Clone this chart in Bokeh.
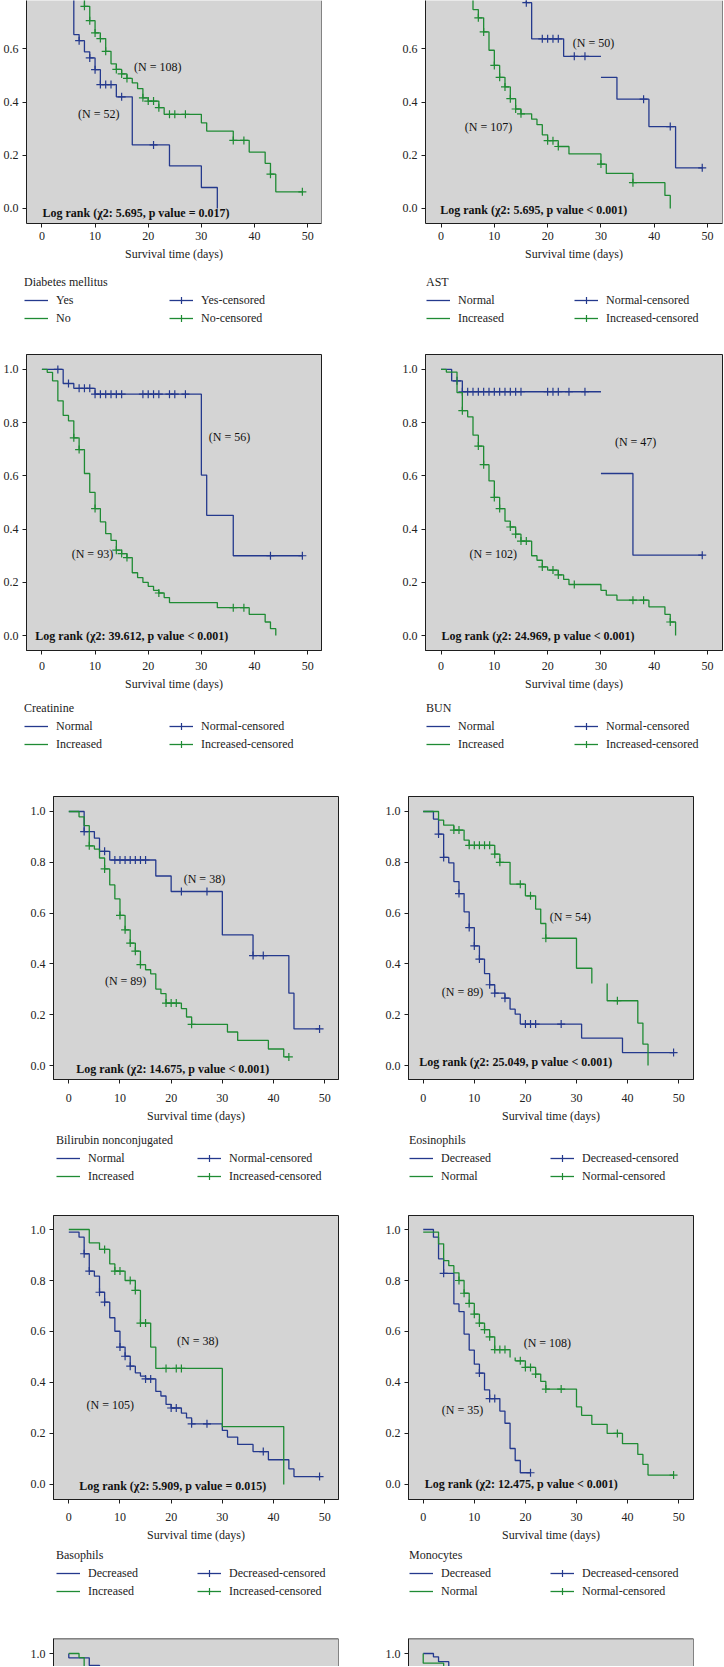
import math
from bokeh.plotting import figure
from bokeh.layouts import column, row
from bokeh.models import Legend, LegendItem, Span, FixedTicker, PrintfTickFormatter
from bokeh.core.properties import value
from bokeh.embed import file_html
from bokeh.resources import INLINE

# ---------------------------------------------------------------- data
x_ticks = [0, 10, 20, 30, 40, 50]
y_ticks = [0.0, 0.2, 0.4, 0.6, 0.8, 1.0]
x_label = "Survival time (days)"

# Diabetes mellitus
dm_title = "Diabetes mellitus"
dm_groups = ["Yes", "No"]
dm_n = [52, 108]
dm_chi2, dm_p = "5.695", "= 0.017"
dm_yes_t = [0, 1, 3, 4, 5, 6, 7, 8, 9, 10, 11, 14, 17, 24, 30, 33]
dm_yes_s = [1.0, 0.98, 0.94, 0.88, 0.80, 0.654, 0.631, 0.589, 0.566, 0.522, 0.466, 0.42, 0.239, 0.16, 0.079, 0.0]
dm_yes_end = 33
dm_yes_c = [7, 9, 10, 11, 12, 13, 15, 21]
dm_no_t = [0, 2, 3, 4, 5, 6, 7, 8, 9, 10, 11, 12, 13, 14, 15, 16, 17, 18, 19, 20, 22, 23, 30, 31, 36, 39, 42, 43, 44]
dm_no_s = [1.0, 0.98, 0.95, 0.91, 0.87, 0.83, 0.79, 0.76, 0.706, 0.66, 0.639, 0.591, 0.544, 0.523, 0.506, 0.489,
           0.472, 0.451, 0.416, 0.404, 0.379, 0.354, 0.322, 0.291, 0.256, 0.212, 0.17, 0.129, 0.0625]
dm_no_end = 49
dm_no_c = [8, 9, 10, 11, 12, 14, 15, 16, 19, 20, 21, 22, 24, 25, 27, 36, 38, 43, 49]

# AST
ast_title = "AST"
ast_groups = ["Normal", "Increased"]
ast_n = [50, 107]
ast_chi2, ast_p = "5.695", "< 0.001"
ast_nor_t = [0, 3, 6, 10, 13, 16, 17, 23, 30, 33, 39, 44]
ast_nor_s = [1.0, 0.98, 0.94, 0.9, 0.84, 0.774, 0.638, 0.572, 0.493, 0.411, 0.308, 0.153]
ast_nor_end = 49
ast_nor_c = [16, 19, 20, 21, 22, 25, 27, 38, 43, 49]
ast_nor_vgap = [30]
ast_inc_t = [0, 1, 2, 3, 4, 5, 6, 7, 8, 9, 10, 11, 12, 13, 14, 15, 17, 18, 19, 20, 22, 24, 30, 31, 36, 42, 43]
ast_inc_s = [1.0, 0.98, 0.95, 0.91, 0.86, 0.8, 0.748, 0.717, 0.664, 0.595, 0.538, 0.493, 0.457, 0.413, 0.374,
             0.356, 0.336, 0.315, 0.277, 0.255, 0.233, 0.205, 0.167, 0.132, 0.097, 0.049, 0.0]
ast_inc_end = 43
ast_inc_c = [7, 8, 10, 11, 12, 13, 14, 15, 20, 21, 22, 30, 36]

# Creatinine
cr_title = "Creatinine"
cr_groups = ["Normal", "Increased"]
cr_n = [56, 93]
cr_chi2, cr_p = "39.612", "< 0.001"
cr_nor_t = [0, 4, 6, 10, 30, 31, 36]
cr_nor_s = [1.0, 0.947, 0.929, 0.907, 0.603, 0.452, 0.30]
cr_nor_end = 49
cr_nor_c = [3, 5, 7, 8, 9, 10, 11, 12, 13, 14, 15, 19, 20, 21, 22, 24, 25, 27, 43, 49]
cr_inc_t = [0, 1, 2, 3, 4, 5, 6, 7, 8, 9, 10, 11, 12, 13, 14, 15, 16, 17, 18, 19, 20, 21, 22, 23, 24, 33, 39, 42, 43, 44]
cr_inc_s = [1.0, 0.989, 0.957, 0.882, 0.827, 0.807, 0.743, 0.699, 0.609, 0.538, 0.477, 0.427, 0.383, 0.358, 0.321,
            0.308, 0.293, 0.236, 0.218, 0.2, 0.185, 0.17, 0.16, 0.143, 0.124, 0.105, 0.08, 0.051, 0.026, 0.0]
cr_inc_end = 44
cr_inc_c = [6, 7, 10, 14, 15, 16, 22, 36, 38]

# BUN
bun_title = "BUN"
bun_groups = ["Normal", "Increased"]
bun_n = [47, 102]
bun_chi2, bun_p = "24.969", "< 0.001"
bun_nor_t = [0, 2, 4, 30, 36]
bun_nor_s = [1.0, 0.957, 0.916, 0.609, 0.302]
bun_nor_end = 49
bun_nor_c = [3, 4, 5, 6, 7, 8, 9, 10, 11, 12, 13, 14, 15, 20, 21, 22, 24, 27, 49]
bun_nor_vgap = [30]
bun_inc_t = [0, 1, 3, 4, 5, 6, 7, 8, 9, 10, 11, 12, 13, 14, 15, 17, 18, 19, 20, 22, 23, 24, 30, 31, 33, 39, 42, 43, 44]
bun_inc_s = [1.0, 0.99, 0.913, 0.845, 0.822, 0.753, 0.712, 0.642, 0.581, 0.519, 0.477, 0.43, 0.408, 0.381, 0.355,
             0.3, 0.283, 0.258, 0.246, 0.228, 0.211, 0.192, 0.17, 0.152, 0.133, 0.108, 0.08, 0.051, 0.0]
bun_inc_end = 44
bun_inc_c = [4, 7, 8, 10, 11, 13, 14, 15, 16, 19, 21, 22, 25, 36, 38, 43]

# Bilirubin nonconjugated
bil_title = "Bilirubin nonconjugated"
bil_groups = ["Normal", "Increased"]
bil_n = [38, 89]
bil_chi2, bil_p = "14.675", "< 0.001"
bil_nor_t = [0, 3, 5, 6, 8, 17, 20, 30, 36, 43, 44]
bil_nor_s = [1.0, 0.921, 0.895, 0.843, 0.809, 0.746, 0.685, 0.514, 0.433, 0.285, 0.144]
bil_nor_end = 49
bil_nor_c = [3, 7, 9, 10, 11, 12, 13, 14, 15, 22, 27, 36, 38, 49]
bil_inc_t = [0, 2, 3, 4, 5, 6, 7, 8, 9, 10, 11, 12, 13, 14, 15, 16, 17, 18, 19, 22, 23, 24, 31, 33, 39, 42]
bil_inc_s = [1.0, 0.979, 0.944, 0.865, 0.852, 0.817, 0.774, 0.711, 0.656, 0.591, 0.534, 0.482, 0.45, 0.397,
             0.377, 0.361, 0.301, 0.283, 0.246, 0.224, 0.191, 0.162, 0.132, 0.099, 0.065, 0.034]
bil_inc_end = 43
bil_inc_c = [4, 7, 10, 11, 12, 13, 14, 19, 20, 21, 24, 43]

# Eosinophils
eo_title = "Eosinophils"
eo_groups = ["Decreased", "Normal"]
eo_n = [89, 54]
eo_chi2, eo_p = "25.049", "< 0.001"
eo_dec_t = [0, 2, 3, 4, 5, 6, 7, 8, 9, 10, 11, 12, 13, 14, 16, 17, 18, 19, 31, 39]
eo_dec_s = [1.0, 0.97, 0.911, 0.819, 0.798, 0.724, 0.677, 0.605, 0.543, 0.471, 0.419, 0.362, 0.318, 0.285,
            0.265, 0.222, 0.202, 0.163, 0.108, 0.051]
eo_dec_end = 49
eo_dec_c = [3, 4, 7, 9, 10, 11, 13, 14, 16, 20, 21, 22, 27, 49]
eo_nor_t = [0, 3, 4, 6, 8, 9, 14, 15, 17, 20, 22, 23, 24, 30, 33, 36, 42, 43, 44]
eo_nor_s = [1.0, 0.966, 0.946, 0.927, 0.887, 0.867, 0.832, 0.8, 0.714, 0.668, 0.616, 0.559, 0.501, 0.383,
            0.323, 0.255, 0.167, 0.084, 0.0]
eo_nor_end = 44
eo_nor_c = [6, 7, 9, 10, 11, 12, 13, 14, 15, 19, 21, 24, 38]
eo_nor_hgap = [33]

# Basophils
ba_title = "Basophils"
ba_groups = ["Decreased", "Increased"]
ba_n = [105, 38]
ba_chi2, ba_p = "5.909", "= 0.015"
ba_dec_t = [0, 2, 3, 4, 5, 6, 7, 8, 9, 10, 11, 12, 13, 14, 15, 17, 18, 19, 20, 22, 23, 24, 30, 31, 33, 36, 39, 43, 44]
ba_dec_s = [0.99, 0.97, 0.905, 0.837, 0.817, 0.754, 0.715, 0.654, 0.601, 0.539, 0.503, 0.464, 0.438, 0.425,
            0.414, 0.365, 0.347, 0.314, 0.3, 0.28, 0.261, 0.238, 0.212, 0.186, 0.157, 0.129, 0.097, 0.061, 0.031]
ba_dec_end = 49
ba_dec_c = [3, 4, 6, 7, 10, 11, 12, 15, 16, 20, 21, 24, 27, 38, 49]
ba_inc_t = [0, 4, 6, 8, 9, 11, 13, 14, 16, 17, 30, 42]
ba_inc_s = [1.0, 0.948, 0.922, 0.865, 0.837, 0.8, 0.761, 0.633, 0.539, 0.455, 0.227, 0.0]
ba_inc_end = 42
ba_inc_c = [7, 9, 10, 12, 13, 14, 15, 19, 21, 22]

# Monocytes
mo_title = "Monocytes"
mo_groups = ["Decreased", "Normal"]
mo_n = [35, 108]
mo_chi2, mo_p = "12.475", "< 0.001"
mo_dec_t = [0, 2, 3, 4, 6, 7, 8, 9, 10, 11, 12, 13, 15, 16, 17, 18, 19]
mo_dec_s = [1.0, 0.97, 0.885, 0.828, 0.708, 0.678, 0.59, 0.527, 0.472, 0.437, 0.371, 0.337, 0.288, 0.24,
            0.141, 0.094, 0.046]
mo_dec_end = 21
mo_dec_c = [4, 11, 13, 14, 21]
mo_nor_t = [0, 3, 4, 5, 6, 7, 8, 9, 10, 11, 12, 13, 14, 17, 18, 20, 22, 23, 24, 30, 31, 33, 36, 39, 42, 43, 44]
mo_nor_s = [0.99, 0.944, 0.878, 0.858, 0.83, 0.8, 0.75, 0.71, 0.668, 0.633, 0.607, 0.579, 0.529, 0.498, 0.485,
            0.459, 0.433, 0.404, 0.374, 0.304, 0.271, 0.236, 0.2, 0.16, 0.118, 0.079, 0.037]
mo_nor_end = 49
mo_nor_c = [7, 8, 9, 10, 11, 12, 13, 14, 15, 16, 19, 20, 21, 22, 24, 27, 38, 49]
mo_nor_hgap = [17]

# bottom row (cut off in the picture)
b5l_blue_t = [0, 0, 4, 6, 7]
b5l_blue_s = [1.0, 0.983, 0.953, 0.92, 0.89]
b5l_blue_end = 9
b5l_green_t = [0, 2, 3, 5]
b5l_green_s = [1.0, 0.984, 0.93, 0.9]
b5l_green_end = 7
b5r_blue_t = [0, 2, 3, 5]
b5r_blue_s = [1.0, 0.987, 0.968, 0.93]
b5r_blue_end = 7
b5r_green_t = [0, 0, 4, 6]
b5r_green_s = [1.0, 0.962, 0.93, 0.9]
b5r_green_end = 8

# ---------------------------------------------------------------- style / layout
FONT = "Liberation Serif"
BLUE = "#24398D"
GREEN = "#1F8B34"
BG = "#D4D4D4"
DARK = "#1E1E1E"
FS = "12px"
FIG_W = 362

# main figure per row: (height, border top, border bottom, y start, y end, tick label standoff)
ROWS = [
    (263, 0, 40, -0.0564, 0.782, 4),
    (353, 14, 43, -0.056, 1.056, 7),
    (355, 26, 46, -0.055, 1.059, 10),
    (354, 25, 45, -0.059, 1.055, 9),
    (46, 18, 0, 0.949, 1.059, 4),
]
# legend strip under each row: (height, border top)
LEG_ROWS = [(77, 12), (77, 8), (65, 8), (76, 4)]
# columns: (left border, right border, x start, x end, legend label width, legend left border)
COLS_TOP = [(24, 41, -2.9, 52.6, 113, 24), (63, 2, -2.91, 52.8, 116, 64)]
COLS_BOT = [(53, 24, -2.99, 52.7, 109, 56), (46, 31, -2.88, 52.9, 109, 47)]


def step_path(t, s, end, vgaps=(), hgaps=()):
    xs, ys = [t[0]], [s[0]]
    for i in range(1, len(t)):
        if t[i - 1] in hgaps:
            xs.append(float("nan")); ys.append(float("nan"))
        xs.append(t[i]); ys.append(s[i - 1])
        if t[i] in vgaps:
            xs.append(float("nan")); ys.append(float("nan"))
        xs.append(t[i]); ys.append(s[i])
    xs.append(end); ys.append(s[-1])
    return xs, ys


def surv_at(t, s, c):
    v = s[0]
    for ti, si in zip(t, s):
        if ti <= c:
            v = si
    return v


def base_fig(rg, cg, show_x=True):
    h, bt, bb, ys0, ys1, stand = rg
    bl, br, xs0, xs1 = cg[:4]
    p = figure(width=FIG_W, height=h, x_range=(xs0, xs1), y_range=(ys0, ys1),
               output_backend="svg", toolbar_location=None,
               min_border_left=bl, min_border_right=br, min_border_top=bt, min_border_bottom=bb,
               x_axis_location="below" if show_x else None)
    p.grid.visible = False
    p.background_fill_color = BG
    p.border_fill_color = "white"
    p.outline_line_color = DARK
    p.outline_line_width = 1
    p.yaxis.ticker = FixedTicker(ticks=y_ticks)
    p.yaxis.formatter = PrintfTickFormatter(format="%.1f")
    for ax in p.axis:
        ax.major_label_text_font = FONT
        ax.major_label_text_font_size = FS
        ax.major_label_text_color = "#222"
        ax.major_tick_out = 4
        ax.major_tick_in = 0
        ax.minor_tick_out = 0
        ax.minor_tick_in = 0
        ax.major_label_standoff = 4
        ax.axis_line_color = DARK
        ax.major_tick_line_color = DARK
    if show_x:
        p.xaxis.ticker = FixedTicker(ticks=x_ticks)
        p.xaxis.axis_label = x_label
        p.xaxis.axis_label_text_font = FONT
        p.xaxis.axis_label_text_font_size = FS
        p.xaxis.axis_label_text_font_style = "normal"
        p.xaxis.axis_label_text_color = "#222"
        p.xaxis.axis_label_standoff = 4
        p.xaxis.major_label_standoff = stand
    return p


def legend_fig(lr, cg, title, groups, curves):
    h, bt = lr
    q = figure(width=FIG_W, height=h, output_backend="svg", toolbar_location=None,
               x_axis_location=None, y_axis_location=None,
               min_border_left=cg[5], min_border_right=0, min_border_top=bt, min_border_bottom=0)
    q.grid.visible = False
    q.outline_line_color = None
    q.background_fill_color = "white"
    q.border_fill_color = "white"
    rend = []
    for (xs, ys, cx, cy), col in zip(curves, (BLUE, GREEN)):
        r = q.line(xs, ys, line_color=col, line_width=1.3, visible=False)
        m = q.scatter(cx, cy, marker="cross", size=8, line_color=col, line_width=1.2, visible=False)
        rend.append((r, m))
    items = [
        LegendItem(label=groups[0], renderers=[rend[0][0]]),
        LegendItem(label=groups[1], renderers=[rend[1][0]]),
        LegendItem(label=groups[0] + "-censored", renderers=[rend[0][0], rend[0][1]]),
        LegendItem(label=groups[1] + "-censored", renderers=[rend[1][0], rend[1][1]]),
    ]
    leg = Legend(items=items, location="top_left", orientation="vertical", nrows=2,
                 title=title, title_text_font=FONT, title_text_font_size=FS,
                 title_text_font_style="normal", title_text_color="#222", title_standoff=1,
                 label_text_font=FONT, label_text_font_size=FS, label_text_color="#222",
                 label_standoff=8, label_height=18, label_width=cg[4],
                 glyph_width=24, glyph_height=18, spacing=0, padding=0, margin=0,
                 border_line_color=None, background_fill_alpha=0, inactive_fill_alpha=0)
    q.add_layout(leg)
    return q


def km_panel(rg, lr, cg, title, groups, n, chi2, pv, blue, green, pos, cut_top=False):
    p = base_fig(rg, cg)
    curves = []
    for (t, s, end, cens, vg, hg), col in ((blue, BLUE), (green, GREEN)):
        xs, ys = step_path(t, s, end, vg, hg)
        p.line(xs, ys, line_color=col, line_width=1.3)
        cy = [surv_at(t, s, c) for c in cens]
        p.scatter(cens, cy, marker="cross", size=8, line_color=col, line_width=1.2)
        curves.append((xs, ys, cens, cy))
    (nb_x, nb_y), (ng_x, ng_y), (lr_x, lr_y) = pos
    p.text(x=[nb_x, ng_x], y=[nb_y, ng_y], text=[f"(N = {n[0]})", f"(N = {n[1]})"],
           text_font=value(FONT), text_font_size=FS, text_color="#111",
           text_align="center", text_baseline="middle")
    p.text(x=[lr_x], y=[lr_y], text=[f"Log rank (\u03c72: {chi2}, p value {pv})"],
           text_font=value(FONT), text_font_size=FS, text_font_style="bold", text_color="#111",
           text_align="center", text_baseline="middle")
    if cut_top:
        p.outline_line_color = None
        p.add_layout(Span(location=cg[3], dimension="height", line_color=DARK, line_width=1))
    return p, legend_fig(lr, cg, title, groups, curves)


def cut_panel(rg, cg, blue, green):
    p = base_fig(rg, cg, show_x=False)
    for (t, s, end), col in ((blue, BLUE), (green, GREEN)):
        xs, ys = step_path(t, s, end)
        p.line(xs, ys, line_color=col, line_width=1.3)
    p.outline_line_color = None
    p.add_layout(Span(location=rg[4], dimension="width", line_color=DARK, line_width=1.5))
    p.add_layout(Span(location=cg[3], dimension="height", line_color=DARK, line_width=1))
    return p


# text positions (data coords): blue N label, green N label, log-rank line
POS = {
    "dm": ((10.7, 0.354), (21.8, 0.531), (17.7, -0.018)),
    "ast": ((28.6, 0.623), (8.9, 0.308), (17.4, -0.004)),
    "cr": ((35.3, 0.747), (9.5, 0.308), (16.9, 0.0)),
    "bun": ((36.5, 0.726), (9.8, 0.306), (18.2, 0.0)),
    "bil": ((26.5, 0.734), (11.1, 0.332), (20.3, -0.012)),
    "eo": ((7.7, 0.291), (28.8, 0.585), (18.1, 0.012)),
    "ba": ((8.1, 0.31), (25.2, 0.562), (20.3, -0.008)),
    "mo": ((7.7, 0.292), (24.3, 0.554), (19.2, 0.0)),
}

p_dm, l_dm = km_panel(ROWS[0], LEG_ROWS[0], COLS_TOP[0], dm_title, dm_groups, dm_n, dm_chi2, dm_p,
                      (dm_yes_t, dm_yes_s, dm_yes_end, dm_yes_c, [], []),
                      (dm_no_t, dm_no_s, dm_no_end, dm_no_c, [], []), POS["dm"], cut_top=True)
p_ast, l_ast = km_panel(ROWS[0], LEG_ROWS[0], COLS_TOP[1], ast_title, ast_groups, ast_n, ast_chi2, ast_p,
                        (ast_nor_t, ast_nor_s, ast_nor_end, ast_nor_c, ast_nor_vgap, []),
                        (ast_inc_t, ast_inc_s, ast_inc_end, ast_inc_c, [], []), POS["ast"], cut_top=True)
p_cr, l_cr = km_panel(ROWS[1], LEG_ROWS[1], COLS_TOP[0], cr_title, cr_groups, cr_n, cr_chi2, cr_p,
                      (cr_nor_t, cr_nor_s, cr_nor_end, cr_nor_c, [], []),
                      (cr_inc_t, cr_inc_s, cr_inc_end, cr_inc_c, [], []), POS["cr"])
p_bun, l_bun = km_panel(ROWS[1], LEG_ROWS[1], COLS_TOP[1], bun_title, bun_groups, bun_n, bun_chi2, bun_p,
                        (bun_nor_t, bun_nor_s, bun_nor_end, bun_nor_c, bun_nor_vgap, []),
                        (bun_inc_t, bun_inc_s, bun_inc_end, bun_inc_c, [], []), POS["bun"])
p_bil, l_bil = km_panel(ROWS[2], LEG_ROWS[2], COLS_BOT[0], bil_title, bil_groups, bil_n, bil_chi2, bil_p,
                        (bil_nor_t, bil_nor_s, bil_nor_end, bil_nor_c, [], []),
                        (bil_inc_t, bil_inc_s, bil_inc_end, bil_inc_c, [], []), POS["bil"])
p_eo, l_eo = km_panel(ROWS[2], LEG_ROWS[2], COLS_BOT[1], eo_title, eo_groups, eo_n, eo_chi2, eo_p,
                      (eo_dec_t, eo_dec_s, eo_dec_end, eo_dec_c, [], []),
                      (eo_nor_t, eo_nor_s, eo_nor_end, eo_nor_c, [], eo_nor_hgap), POS["eo"])
p_ba, l_ba = km_panel(ROWS[3], LEG_ROWS[3], COLS_BOT[0], ba_title, ba_groups, ba_n, ba_chi2, ba_p,
                      (ba_dec_t, ba_dec_s, ba_dec_end, ba_dec_c, [], []),
                      (ba_inc_t, ba_inc_s, ba_inc_end, ba_inc_c, [], []), POS["ba"])
p_mo, l_mo = km_panel(ROWS[3], LEG_ROWS[3], COLS_BOT[1], mo_title, mo_groups, mo_n, mo_chi2, mo_p,
                      (mo_dec_t, mo_dec_s, mo_dec_end, mo_dec_c, [], []),
                      (mo_nor_t, mo_nor_s, mo_nor_end, mo_nor_c, [], mo_nor_hgap), POS["mo"])
p_b5l = cut_panel(ROWS[4], COLS_BOT[0], (b5l_blue_t, b5l_blue_s, b5l_blue_end),
                  (b5l_green_t, b5l_green_s, b5l_green_end))
p_b5r = cut_panel(ROWS[4], COLS_BOT[1], (b5r_blue_t, b5r_blue_s, b5r_blue_end),
                  (b5r_green_t, b5r_green_s, b5r_green_end))

layout = column(row(p_dm, p_ast), row(l_dm, l_ast),
                row(p_cr, p_bun), row(l_cr, l_bun),
                row(p_bil, p_eo), row(l_bil, l_eo),
                row(p_ba, p_mo), row(l_ba, l_mo),
                row(p_b5l, p_b5r))

open("out.html", "w").write(file_html(layout, INLINE))
